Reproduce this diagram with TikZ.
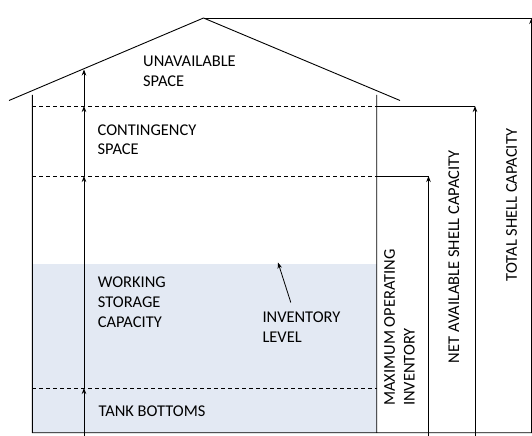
\documentclass[tikz,border=0pt]{standalone}
\usepackage{fontspec}
\setmainfont{Carlito}
\usetikzlibrary{arrows.meta}
\definecolor{liquid}{HTML}{E3E9F3}
\tikzset{
  wall/.style={line width=0.9bp},
  level/.style={line width=0.8bp, dash pattern=on 4bp off 3bp},
  dim/.style={line width=0.8bp, -{Stealth[length=6bp,width=4.5bp]}},
  lbl/.style={font=\fontsize{16.5}{20}\selectfont, align=left, inner sep=0pt},
}
\begin{document}
\begin{tikzpicture}[x=1bp, y=-1bp]
      \useasboundingbox (0,0) rectangle (532,436);
      % points of the tank
      \coordinate (peak) at (203.5,18);
      \coordinate (eaveL) at (9,100.5);
      \coordinate (eaveR) at (400,100.5);
      \coordinate (wallLt) at (32.3,95);
      \coordinate (wallLb) at (32.3,432.7);
      \coordinate (wallRt) at (376.7,95);
      \coordinate (wallRb) at (376.7,432.7);
      \coordinate (floorR) at (532,432.7);
      \coordinate (liqL) at (32.3,264);
      \coordinate (netL) at (32.3,106);
      \coordinate (netR) at (376.7,106);
      \coordinate (netE) at (475,106);
      \coordinate (maxL) at (32.3,176);
      \coordinate (maxR) at (376.7,176);
      \coordinate (maxE) at (428.5,176);
      \coordinate (botL) at (32.3,388);
      \coordinate (botR) at (376.7,388);
      \coordinate (totT) at (531.5,18);
      \coordinate (totB) at (531.5,432.7);
      \coordinate (netB) at (475,436);
      \coordinate (maxB) at (428.5,436);
      \coordinate (sc0) at (84,436);
      \coordinate (sc1) at (84,388);
      \coordinate (sc2) at (84,176);
      \coordinate (sc3) at (84,106);
      \coordinate (sc4) at (84,69.5);
      \coordinate (invTip) at (278,262.5);
      \coordinate (invEnd) at (290.8,302.5);

      \fill [liquid] (liqL) rectangle (wallRb);
      \draw [wall] (eaveL) -- (peak) -- (eaveR)
                   (wallLt) -- (wallLb) -- (floorR)
                   (wallRt) -- (wallRb);
      \draw [level] (netL) -- (netR)
                    (maxL) -- (maxR)
                    (botL) -- (botR);
      \draw [wall] (netR) -- (netE)
                   (maxR) -- (maxE)
                   (peak) -- (totT);
      \draw [dim] (sc0) -- (sc1);
      \draw [dim] (sc1) -- (sc2);
      \draw [dim] (sc2) -- (sc3);
      \draw [dim] (sc3) -- (sc4);
      \draw [dim] (maxB) -- (maxE);
      \draw [dim] (netB) -- (netE);
      \draw [dim] (totB) -- (totT);
      \draw [dim] (invEnd) -- (invTip);

      % multi-line labels sit on their last baseline
      \node (unavail) [lbl, anchor=base west] at (143,86.5) {UNAVAILABLE\\SPACE};
      \node (conting) [lbl, anchor=base west] at (97.5,155) {CONTINGENCY\\SPACE};
      \node (working) [lbl, anchor=base west] at (97.7,327.5) {WORKING\\STORAGE\\CAPACITY};
      \node (invlevel) [lbl, anchor=base west] at (262.3,342) {INVENTORY\\LEVEL};
      \node (bottoms) [lbl, anchor=base west] at (98.4,416) {TANK BOTTOMS};
      \node (maxinv) [lbl, rotate=90, anchor=center] at (399.5,327.7) {MAXIMUM OPERATING\\INVENTORY};
      \node (netcap) [lbl, rotate=90, anchor=center] at (453.8,256.8) {NET AVAILABLE SHELL CAPACITY};
      \node (totcap) [lbl, rotate=90, anchor=center] at (511.5,205) {TOTAL SHELL CAPACITY};
\end{tikzpicture}
\end{document}
